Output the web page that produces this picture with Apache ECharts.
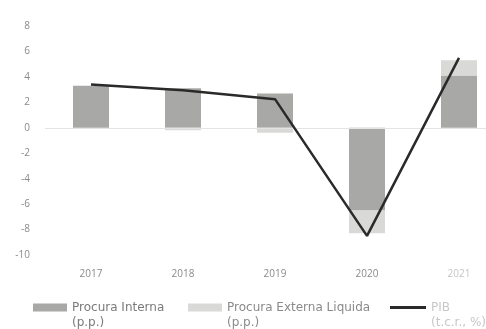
<!DOCTYPE html>
<html>
<head>
<meta charset="utf-8">
<script src="https://cdn.jsdelivr.net/npm/echarts@6/dist/echarts.min.js"></script>
<style>
  html, body { margin: 0; padding: 0; background: #fff; }
  #chart { width: 486px; height: 329px; }
</style>
</head>
<body>
<div id="chart"></div>
<script>
// Anos e contributos para o crescimento do PIB
const years = ['2017', '2018', '2019', '2020', '2021'];
const procuraInterna = [3.3, 3.1, 2.7, -6.5, 4.1];
const procuraExterna = [0.0, -0.2, -0.4, -1.8, 1.2];
const pib = [3.4, 2.95, 2.25, -8.5, 5.5];
const yTicks = { min: -10, max: 8, step: 2 };

const seriesNames = ['Procura Interna', 'Procura Externa Liquida', 'PIB'];
const seriesUnits = ['(p.p.)', '(p.p.)', '(t.c.r., %)'];

const font = 'Open Sans';
const legendFont = 'DejaVu Sans';
const labelGrey = '#8a8a8a';

function legendAt(idx, left, color) {
  return {
    data: [{ name: seriesNames[idx], icon: 'rect' }],
    left: left,
    top: 285,
    padding: 0,
    itemWidth: idx === 2 ? 36 : 34,
    itemHeight: idx === 2 ? 3 : 8,
    itemGap: 2,
    formatter: function (name) {
      return '\n' + name + '\n' + seriesUnits[seriesNames.indexOf(name)];
    },
    textStyle: { color: color, fontFamily: legendFont, fontSize: 12, lineHeight: 15 }
  };
}

const chart = echarts.init(document.getElementById('chart'), null, { renderer: 'canvas' });
chart.setOption({
  animation: false,
  backgroundColor: '#ffffff',
  grid: { left: 45, width: 460, top: 26, bottom: 74, outerBoundsMode: 'none', containLabel: false },
  legend: [
    legendAt(0, 33, '#7a7a7a'),
    legendAt(1, 188, '#8a8a8a'),
    legendAt(2, 390, '#c8c8c8')
  ],
  xAxis: {
    type: 'category',
    data: years.map(function (y, i) {
      return i === years.length - 1 ? { value: y, textStyle: { color: '#c4c4c4' } } : y;
    }),
    position: 'bottom',
    axisLine: { show: false },
    axisTick: { show: false },
    axisLabel: { color: labelGrey, fontFamily: font, fontSize: 10, margin: 14 },
    splitLine: { show: false }
  },
  yAxis: {
    type: 'value',
    min: yTicks.min,
    max: yTicks.max,
    interval: yTicks.step,
    axisLine: { show: false },
    axisTick: { show: false },
    axisLabel: { color: labelGrey, fontFamily: font, fontSize: 10, margin: 15 },
    splitLine: { show: false }
  },
  series: [
    {
      name: seriesNames[0],
      type: 'bar',
      stack: 'procura',
      barWidth: 36,
      data: procuraInterna,
      itemStyle: { color: '#a8a8a6' },
      markLine: {
        silent: true,
        symbol: 'none',
        label: { show: false },
        lineStyle: { color: '#e4e4e4', width: 1, type: 'solid' },
        data: [{ yAxis: 0 }]
      },
      z: 2
    },
    {
      name: seriesNames[1],
      type: 'bar',
      stack: 'procura',
      barWidth: 36,
      data: procuraExterna,
      itemStyle: { color: '#d9d9d7' },
      z: 2
    },
    {
      name: seriesNames[2],
      type: 'line',
      data: pib,
      symbol: 'none',
      lineStyle: { color: '#2a2a2a', width: 2.5 },
      itemStyle: { color: '#2a2a2a' },
      z: 5
    }
  ]
});
</script>
</body>
</html>
